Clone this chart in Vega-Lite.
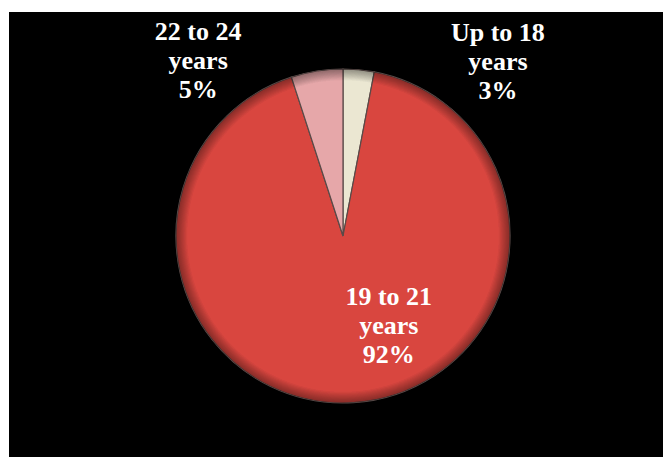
{
  "$schema": "https://vega.github.io/schema/vega-lite/v6.json",
  "autosize": {"type": "none"},
  "padding": {"left": 9, "top": 12, "right": 0, "bottom": 0},
  "width": 654,
  "height": 445,
  "background": "white",
  "view": {"fill": "black", "stroke": null},
  "data": {
    "values": [
      {"age": "Up to 18", "percent": 3, "order": 1},
      {"age": "19 to 21", "percent": 92, "order": 2},
      {"age": "22 to 24", "percent": 5, "order": 3}
    ]
  },
  "transform": [
    {"calculate": "[datum.age, 'years', datum.percent + '%']", "as": "label"}
  ],
  "layer": [
    {
      "mark": {
        "type": "arc",
        "outerRadius": 167,
        "x": {"expr": "width/2 + 7"},
        "y": {"expr": "height/2 + 1.5"},
        "stroke": "#5a4a48",
        "strokeWidth": 1.2
      },
      "encoding": {
        "theta": {"field": "percent", "type": "quantitative", "stack": true},
        "order": {"field": "order", "type": "quantitative"},
        "color": {
          "field": "age",
          "type": "nominal",
          "scale": {
            "domain": ["Up to 18", "19 to 21", "22 to 24"],
            "range": ["#ebe7d2", "#d9463f", "#e6a7a9"]
          },
          "legend": null
        }
      }
    },
    {
      "mark": {
        "type": "arc",
        "outerRadius": 167,
        "theta": 0,
        "theta2": 6.2832,
        "x": {"expr": "width/2 + 7"},
        "y": {"expr": "height/2 + 1.5"},
        "fill": {
          "gradient": "radial",
          "x1": 0.5, "y1": 0.5, "r1": 0,
          "x2": 0.5, "y2": 0.5, "r2": 0.5,
          "stops": [
            {"offset": 0, "color": "rgba(0,0,0,0)"},
            {"offset": 0.93, "color": "rgba(0,0,0,0)"},
            {"offset": 1, "color": "rgba(0,0,0,0.15)"}
          ]
        }
      },
      "encoding": {}
    },
    {
      "transform": [{"filter": "datum.age == 'Up to 18'"}],
      "mark": {
        "type": "text",
        "x": {"expr": "width/2 + 7"},
        "y": {"expr": "height/2 + 1.5"},
        "theta": 0.653,
        "radius": 255,
        "font": "Liberation Serif",
        "fontWeight": "bold",
        "fontSize": 26,
        "lineHeight": 29,
        "color": "white",
        "align": "center",
        "baseline": "middle"
      },
      "encoding": {"text": {"field": "label"}}
    },
    {
      "transform": [{"filter": "datum.age == '22 to 24'"}],
      "mark": {
        "type": "text",
        "x": {"expr": "width/2 + 7"},
        "y": {"expr": "height/2 + 1.5"},
        "theta": -0.618,
        "radius": 250,
        "font": "Liberation Serif",
        "fontWeight": "bold",
        "fontSize": 26,
        "lineHeight": 29,
        "color": "white",
        "align": "center",
        "baseline": "middle"
      },
      "encoding": {"text": {"field": "label"}}
    },
    {
      "transform": [{"filter": "datum.age == '19 to 21'"}],
      "mark": {
        "type": "text",
        "x": {"expr": "width/2 + 7"},
        "y": {"expr": "height/2 + 1.5"},
        "theta": 2.496,
        "radius": 76,
        "font": "Liberation Serif",
        "fontWeight": "bold",
        "fontSize": 26,
        "lineHeight": 29,
        "color": "white",
        "align": "center",
        "baseline": "middle"
      },
      "encoding": {"text": {"field": "label"}}
    }
  ]
}
